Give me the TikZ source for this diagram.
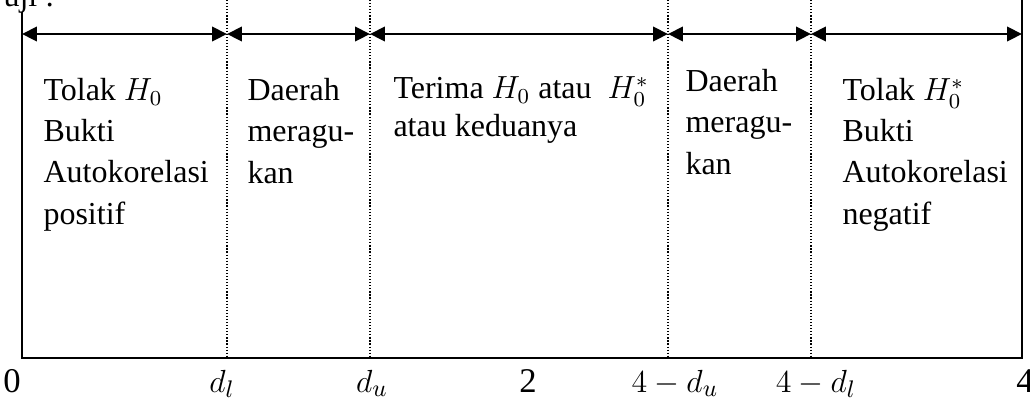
\documentclass[tikz,border=0pt]{standalone}
\usepackage{amsmath}
\usepackage{fontspec}
\setmainfont{Liberation Serif}
\usetikzlibrary{arrows.meta}

\begin{document}
\begin{tikzpicture}[x=0.375pt, y=-0.375pt,
		font=\fontsize{12pt}{15.4pt}\selectfont,
		garis/.style={line width=0.75pt},
		batas/.style={line width=0.45pt, dash pattern=on 0.45pt off 0.7pt},
		rentang/.style={line width=0.9pt, {Triangle[length=5.6pt, width=5.4pt]}-{Triangle[length=5.6pt, width=5.4pt]}},
		daerah/.style={align=left, anchor=base west, inner sep=0pt},
		nilai/.style={anchor=base, inner sep=0pt, font=\fontsize{13pt}{15pt}\selectfont}]
			\useasboundingbox (0,0) rectangle (1030,402);
			
			\node [daerah] (uji) at (3,6) {uji :};
			
			\foreach \x/\n in {22/a0, 227/al, 370/au, 668/bu, 811/bl, 1022/a4}
				\coordinate (\n) at (\x, 34);
			\coordinate (s0) at (22, 358);
			\coordinate (s4) at (1022, 358);
			
			\draw [garis] (22, 12) -- (s0) -- (s4) -- (1022, 0);
			\foreach \n in {al, au, bu, bl}
				\draw [batas] (\n |- 0,0) -- (\n |- s0);
			
			\draw [rentang] (a0) -- (al);
			\draw [rentang] (al) -- (au);
			\draw [rentang] (au) -- (bu);
			\draw [rentang] (bu) -- (bl);
			\draw [rentang] (bl) -- (a4);
			
			% base = baseline of the last line
			\node [daerah] (tolak) at (43, 224) {Tolak $H_0$\\Bukti\\Autokorelasi\\positif};
			\node [daerah] (ragu) at (247, 183) {Daerah\\meragu-\\kan};
			\node [daerah, font=\fontsize{12pt}{13.9pt}\selectfont] (terima) at (393, 136) {Terima $H_0$ atau\ \ $H_0^*$\\atau keduanya};
			\node [daerah] (ragu2) at (685, 174) {Daerah\\meragu-\\kan};
			\node [daerah] (tolak2) at (842, 224) {Tolak $H_0^*$\\Bukti\\Autokorelasi\\negatif};
			
			\node [nilai] (n0) at (12, 392) {0};
			\node [nilai] (nl) at (222, 392) {$d_l$};
			\node [nilai] (nu) at (372, 392) {$d_u$};
			\node [nilai] (n2) at (528, 392) {2};
			\node [nilai] (n4u) at (675, 392) {$4-d_u$};
			\node [nilai] (n4l) at (816, 392) {$4-d_l$};
			\node [nilai] (n4) at (1025, 392) {4};
			
		\end{tikzpicture}
\end{document}
